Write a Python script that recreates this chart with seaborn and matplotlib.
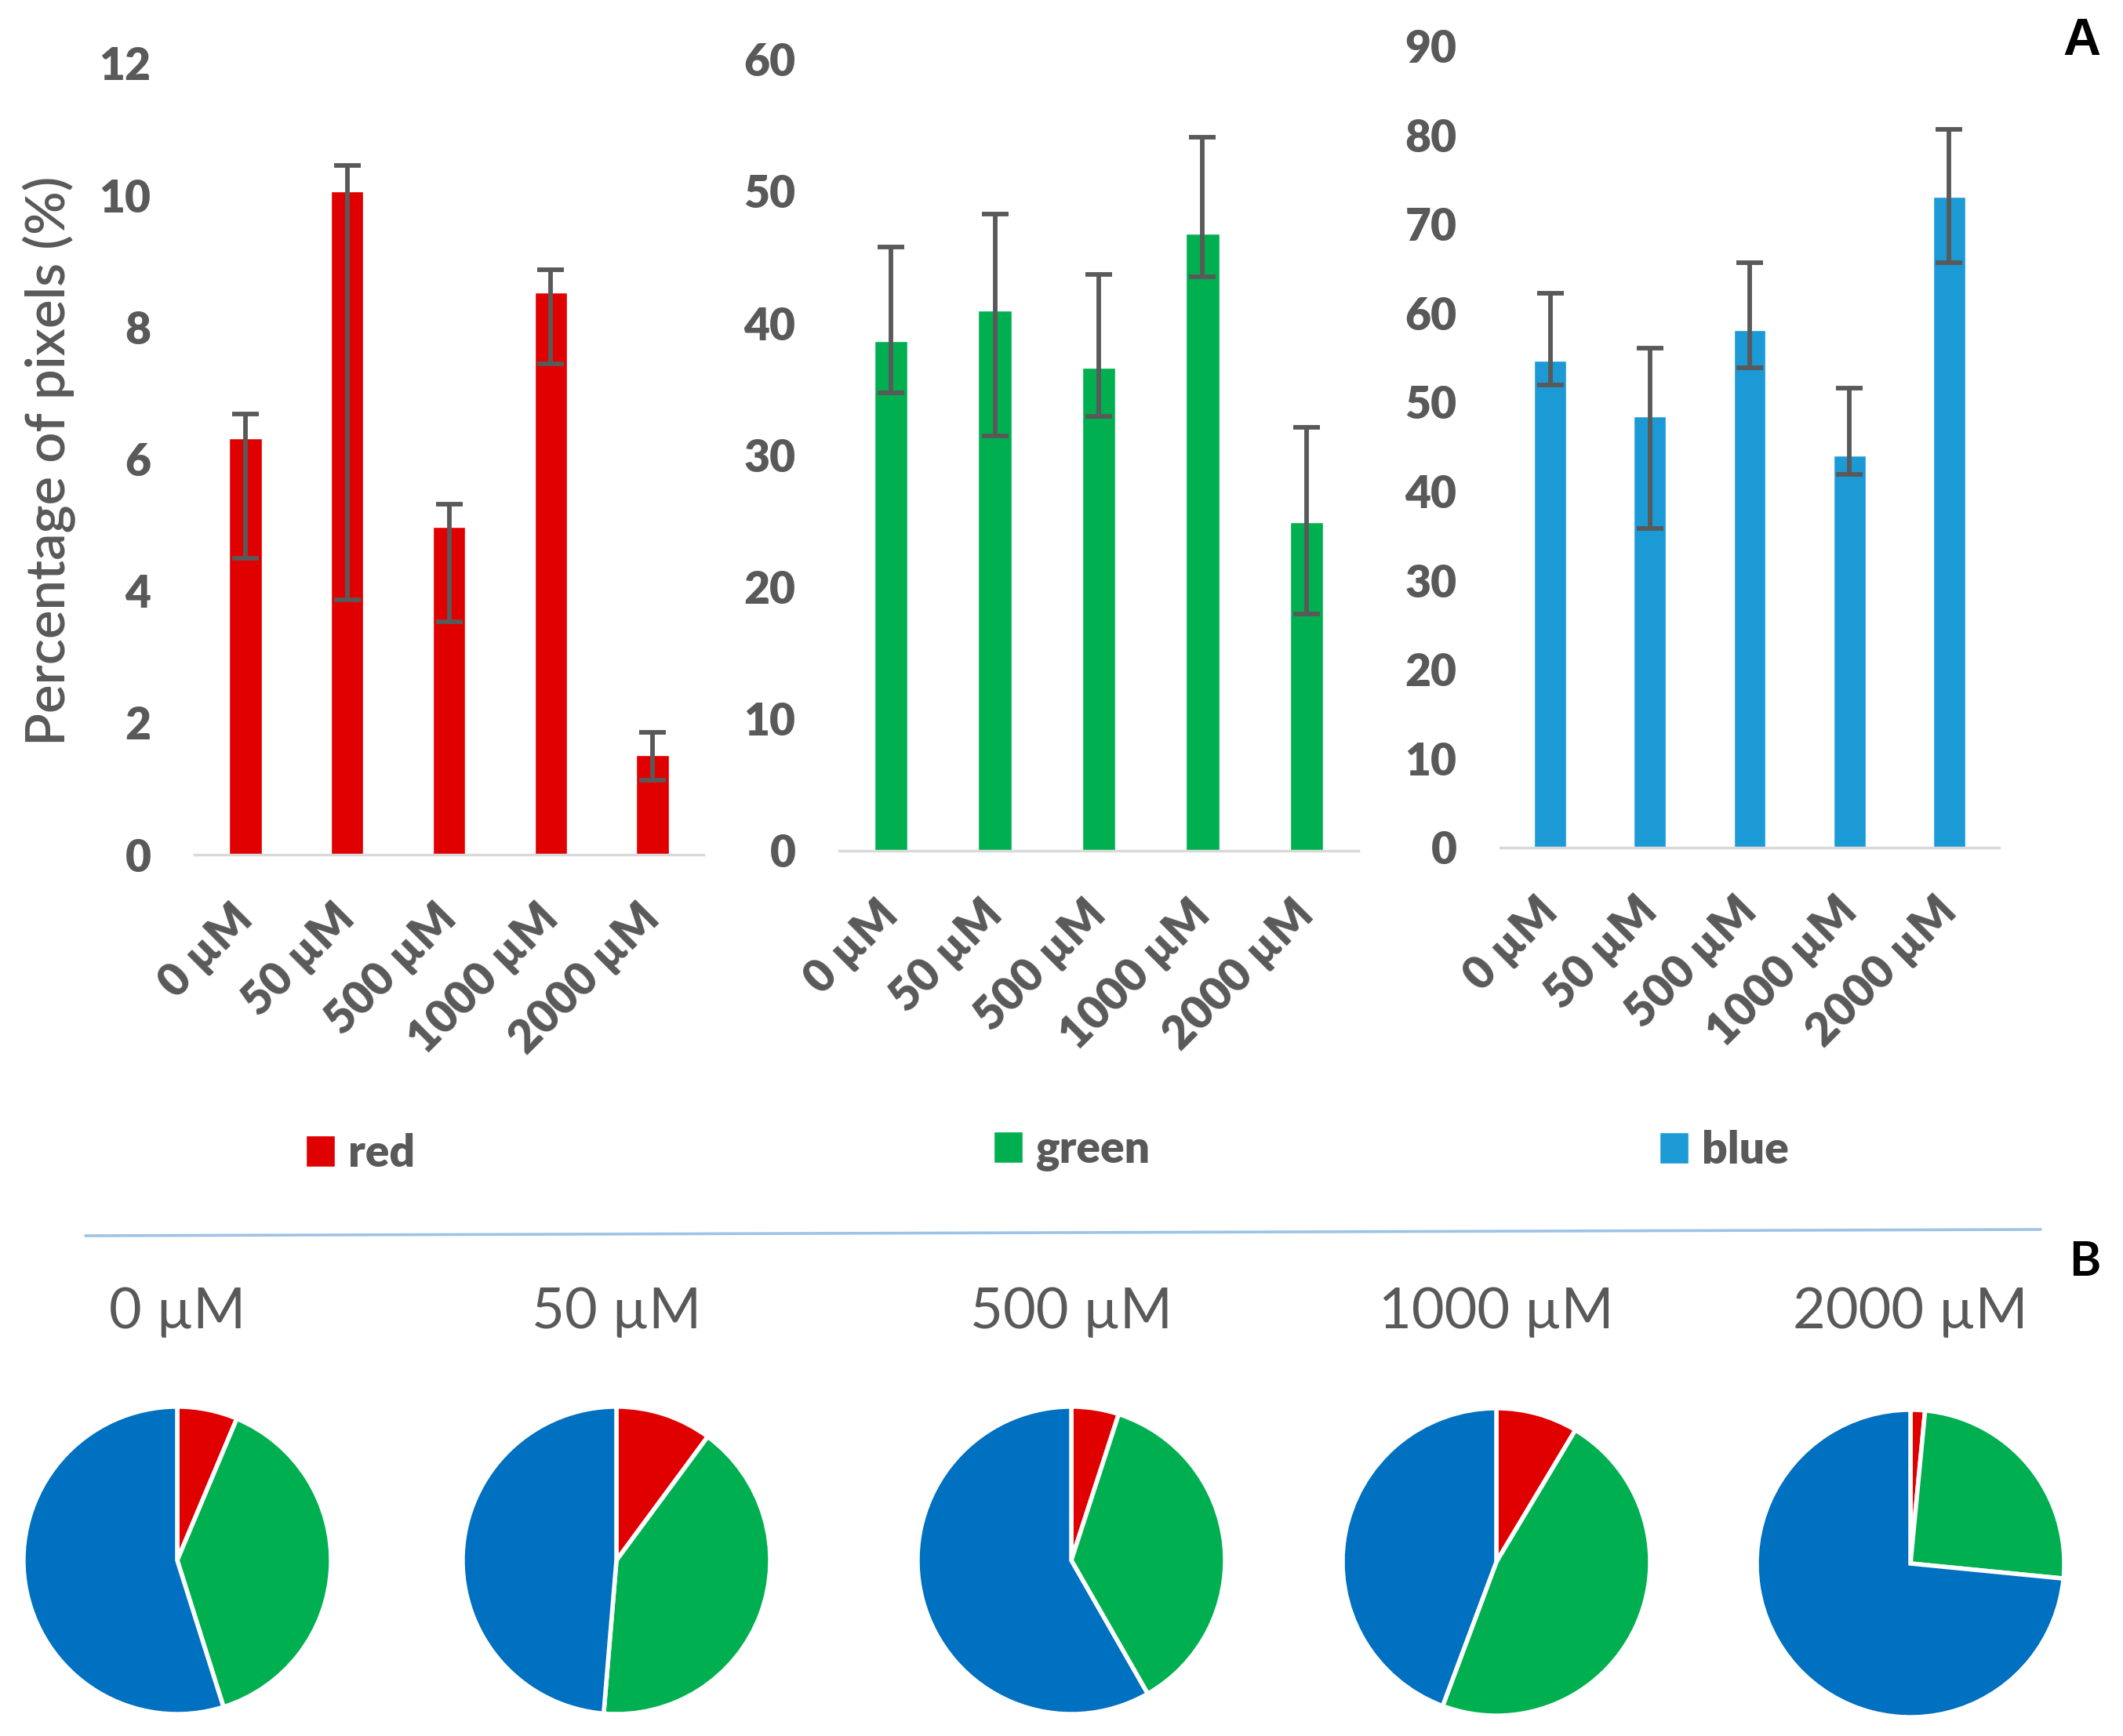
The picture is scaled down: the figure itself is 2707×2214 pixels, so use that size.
import numpy as np
import matplotlib
matplotlib.use("Agg")
import matplotlib.pyplot as plt
import seaborn as sns
from matplotlib.patches import Patch
from matplotlib.lines import Line2D

# ---------------- data ----------------
concentrations = ["0 µM", "50 µM", "500 µM", "1000 µM", "2000 µM"]

red_mean = [6.31, 10.06, 4.97, 8.53, 1.51]
red_low = [4.49, 3.87, 3.53, 7.44, 1.13]
red_high = [6.68, 10.45, 5.32, 8.87, 1.86]

green_mean = [38.65, 40.96, 36.6, 46.75, 24.9]
green_low = [34.73, 31.46, 32.9, 43.5, 17.95]
green_high = [45.75, 48.28, 43.7, 54.1, 32.1]

blue_mean = [54.65, 48.39, 58.06, 44.0, 73.03]
blue_low = [51.94, 35.8, 53.87, 41.9, 65.7]
blue_high = [62.26, 56.06, 65.7, 51.6, 80.6]

series_names = ["red", "green", "blue"]
y_max = [12, 60, 90]
y_step = [2, 10, 10]
ylabel_text = "Percentage of pixels (%)"

# ---------------- style ----------------
sns.set_theme(style="white")
plt.rcParams["font.family"] = ["Lato", "DejaVu Sans"]

GRAY = "#595959"
bar_colors = ["#E00000", "#00B050", "#1B9AD6"]
pie_colors = ["#E00000", "#00B050", "#0070C0"]

W, H = 2707, 2214
fig = plt.figure(figsize=(W / 100, H / 100), dpi=100)
fig.patch.set_facecolor("white")

# axes rectangles in pixel coords: left, right, bottom(y of zero), top
panel_px = [(248, 897, 1090, 81), (1070, 1732, 1085, 75.5), (1913, 2549, 1081, 58.6)]
legend_pos = [(460, 1471), (1367, 1467), (2198, 1467)]

means = [red_mean, green_mean, blue_mean]
lows = [red_low, green_low, blue_low]
highs = [red_high, green_high, blue_high]

for i in range(3):
    l, r, b, t = panel_px[i]
    ax = fig.add_axes([l / W, 1 - b / H, (r - l) / W, (b - t) / H])
    m = np.array(means[i])
    lo = np.array(lows[i])
    hi = np.array(highs[i])
    sns.barplot(x=concentrations, y=m, color=bar_colors[i], saturation=1,
                width=0.32, errorbar=None, ax=ax)
    ax.errorbar(np.arange(len(m)), m, yerr=[m - lo, hi - m], fmt="none",
                ecolor=GRAY, elinewidth=4.2, capsize=12, capthick=4.2)
    ax.set_xlim(-0.5, 4.5)
    ax.set_ylim(0, y_max[i])
    ticks = np.arange(0, y_max[i] + 0.01, y_step[i])
    ax.set_yticks(ticks)
    ax.set_yticklabels([f"{int(v)}" for v in ticks])
    for s in ["left", "top", "right"]:
        ax.spines[s].set_visible(False)
    ax.spines["bottom"].set_color("#D9D9D9")
    ax.spines["bottom"].set_linewidth(2.5)
    ax.set_xlabel("")
    ax.set_ylabel("")
    ax.tick_params(axis="y", length=0, pad=40, labelsize=41, labelcolor=GRAY)
    ax.tick_params(axis="x", length=0, pad=52, labelsize=42, labelcolor=GRAY)
    ax.set_xticks(range(5))
    ax.set_xticklabels(concentrations, rotation=45, ha="right", va="center",
                       rotation_mode="anchor")
    for lbl in ax.get_xticklabels() + ax.get_yticklabels():
        lbl.set_fontweight("heavy")
    ax.grid(False)
    ax.patch.set_alpha(0)
    lx, ly = legend_pos[i]
    ax.legend(handles=[Patch(facecolor=bar_colors[i], label=series_names[i])],
              loc="center", bbox_to_anchor=(lx / W, 1 - ly / H),
              bbox_transform=fig.transFigure, frameon=False,
              prop=dict(weight="heavy", size=41), labelcolor=GRAY,
              handlelength=0.65, handleheight=0.7, handletextpad=0.3)

fig.text(63 / W, 1 - 588 / H, ylabel_text, rotation=90, ha="center", va="center",
         fontsize=49.5, fontweight="semibold", color=GRAY)

# panel letters
fig.text(2654 / W, 1 - 53 / H, "A", ha="center", va="center", fontsize=48,
         fontweight="bold", color="black", family=["Liberation Sans", "DejaVu Sans"])
fig.text(2658 / W, 1 - 1609 / H, "B", ha="center", va="center", fontsize=44,
         fontweight="bold", color="black")

# divider line
fig.add_artist(Line2D([109 / W, 2602 / W], [1 - 1576 / H, 1 - 1568 / H],
                      transform=fig.transFigure, color="#9DC3E6", linewidth=2.6))

# pies
pie_centers = [(226, 1990), (786, 1990), (1366, 1990), (1908, 1992), (2436, 1994)]
pie_r = 200
for j, c in enumerate(concentrations):
    cx, cy = pie_centers[j]
    pax = fig.add_axes([(cx - pie_r) / W, 1 - (cy + pie_r) / H, 2 * pie_r / W, 2 * pie_r / H])
    vals = [red_mean[j], green_mean[j], blue_mean[j]]
    pax.pie(vals, colors=pie_colors, startangle=90, counterclock=False,
            wedgeprops=dict(edgecolor="white", linewidth=4))
    pax.set_xlim(-1.02, 1.02)
    pax.set_ylim(-1.02, 1.02)
    pax.set_aspect("equal")
    fig.text(cx / W, 1 - 1694 / H, c, ha="center", va="baseline", fontsize=52,
             color=GRAY)

fig.savefig("out.png", dpi=100, facecolor="white")
